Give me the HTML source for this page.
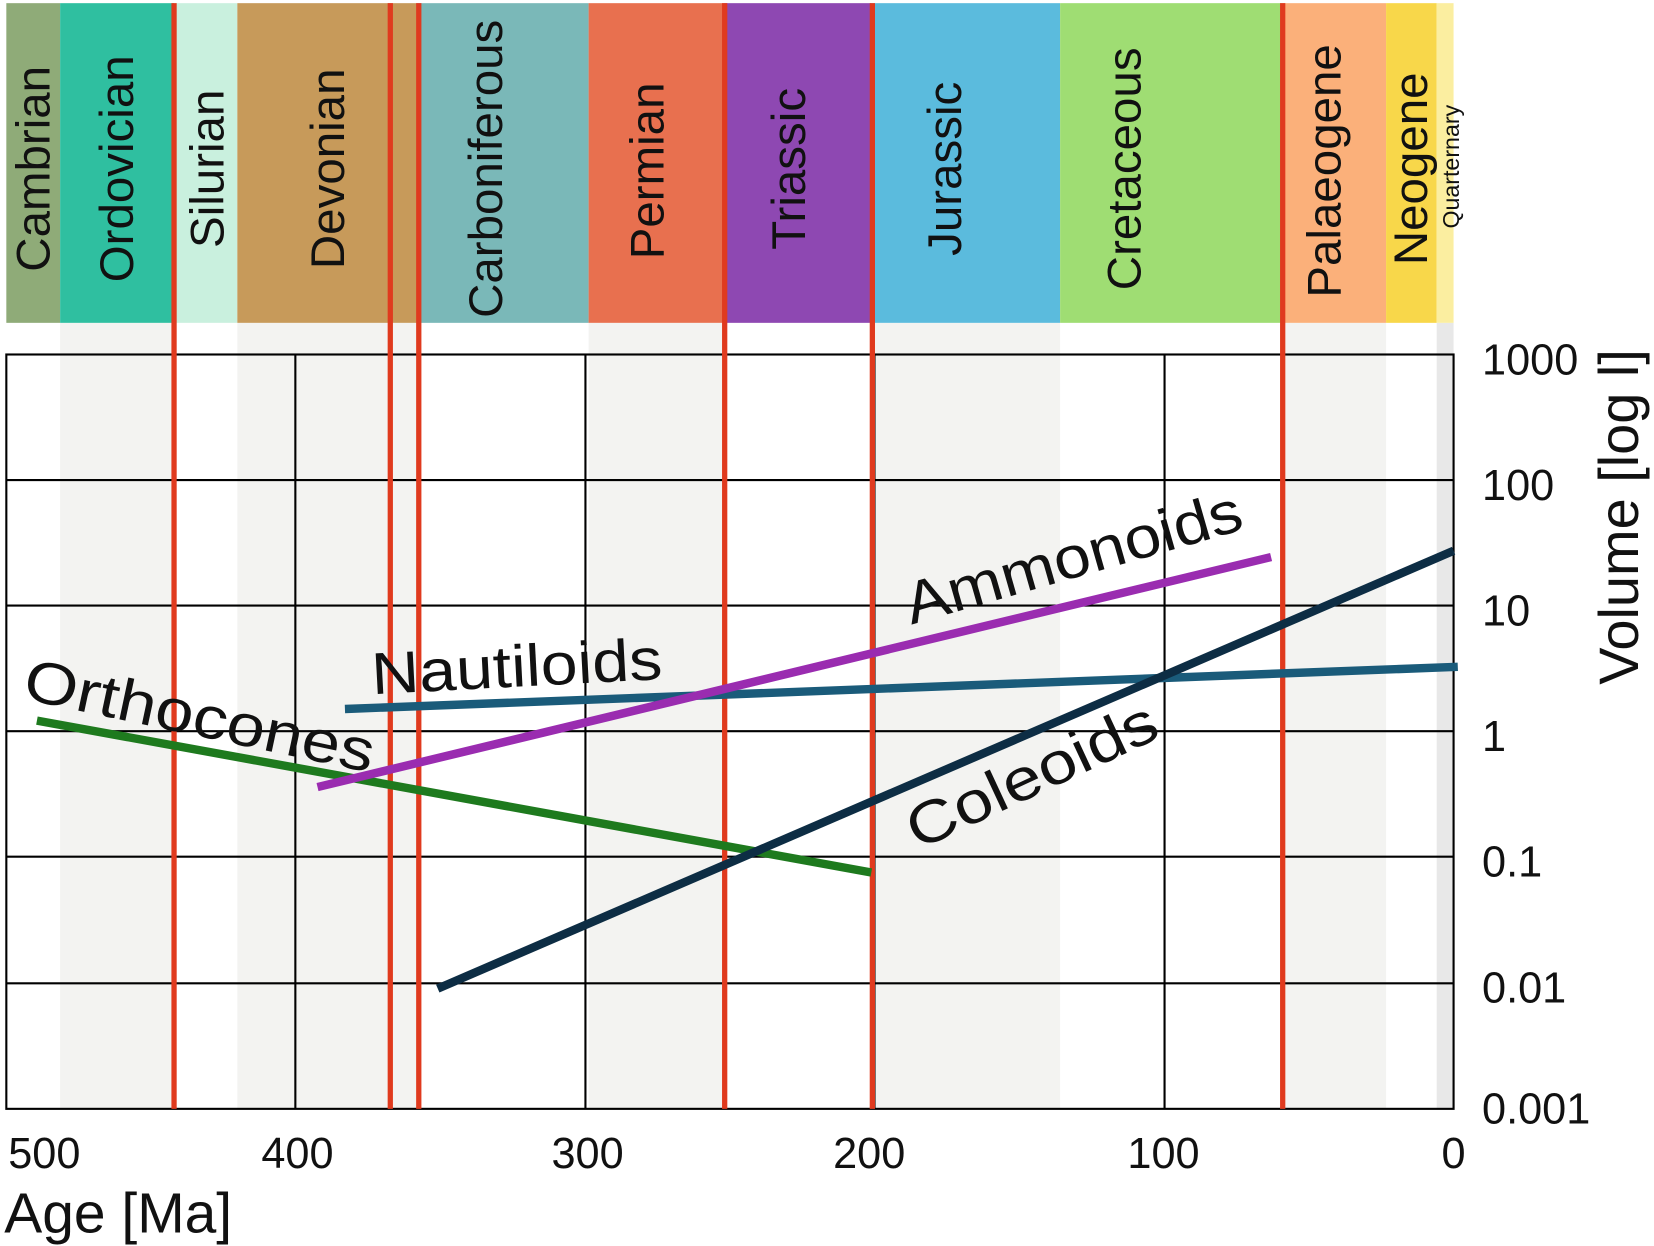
<!DOCTYPE html>
<html><head><style>html,body{margin:0;padding:0;background:#fff}svg{display:block}text{font-family:"Liberation Sans",sans-serif;fill:#111}</style></head><body>
<svg width="1654" height="1246" viewBox="0 0 1568 1181" preserveAspectRatio="none" xmlns="http://www.w3.org/2000/svg">
<rect width="1568" height="1181" fill="#fff"/>
<g fill="#f3f3f1">
<rect x="57" y="306" width="106" height="745"/>
<rect x="225" y="306" width="170" height="745"/>
<rect x="558" y="306" width="128" height="745"/>
<rect x="826" y="306" width="179" height="745"/>
<rect x="1215" y="306" width="99" height="745"/>
<rect x="1362" y="306" width="16" height="745" fill="#e8e8e8"/>
</g>
<rect x="6" y="3" width="51" height="303" fill="#8fab78"/>
<rect x="57" y="3" width="108" height="303" fill="#2fbfa0"/>
<rect x="165" y="3" width="60" height="303" fill="#c9f0de"/>
<rect x="225" y="3" width="170" height="303" fill="#c79a5a"/>
<rect x="395" y="3" width="163" height="303" fill="#7ab8b8"/>
<rect x="558" y="3" width="128" height="303" fill="#e8704f"/>
<rect x="686" y="3" width="140" height="303" fill="#8e48b2"/>
<rect x="826" y="3" width="179" height="303" fill="#5bbbdd"/>
<rect x="1005" y="3" width="210" height="303" fill="#9fdd73"/>
<rect x="1215" y="3" width="99" height="303" fill="#fbb07a"/>
<rect x="1314" y="3" width="48" height="303" fill="#f8d74a"/>
<rect x="1362" y="3" width="16" height="303" fill="#fbeea0"/>
<g font-size="45" text-anchor="middle">
<text transform="translate(47,160) rotate(-90)">Cambrian</text>
<text transform="translate(126,160) rotate(-90)">Ordovician</text>
<text transform="translate(212,160) rotate(-90)">Silurian</text>
<text transform="translate(326,160) rotate(-90)">Devonian</text>
<text transform="translate(476,160) rotate(-90)">Carboniferous</text>
<text transform="translate(629,162) rotate(-90)">Permian</text>
<text transform="translate(763,160) rotate(-90)">Triassic</text>
<text transform="translate(911,160) rotate(-90)">Jurassic</text>
<text transform="translate(1081,160) rotate(-90)">Cretaceous</text>
<text transform="translate(1271,162) rotate(-90)">Palaeogene</text>
<text transform="translate(1353,160) rotate(-90)">Neogene</text>
<text transform="translate(1383,158) rotate(-90)" font-size="22">Quarternary</text>
</g>
<g stroke="#000" stroke-width="2" fill="none">
<rect x="6" y="336" width="1372" height="715"/>
<line x1="280" y1="336" x2="280" y2="1051"/><line x1="555" y1="336" x2="555" y2="1051"/><line x1="829" y1="336" x2="829" y2="1051"/><line x1="1104" y1="336" x2="1104" y2="1051"/>
<line x1="6" y1="455" x2="1378" y2="455"/><line x1="6" y1="574" x2="1378" y2="574"/><line x1="6" y1="693" x2="1378" y2="693"/><line x1="6" y1="812" x2="1378" y2="812"/><line x1="6" y1="932" x2="1378" y2="932"/>
</g>
<g stroke="#e03a1e" stroke-width="5">
<line x1="165" y1="3" x2="165" y2="1051"/><line x1="370" y1="3" x2="370" y2="1051"/><line x1="397" y1="3" x2="397" y2="1051"/><line x1="687" y1="3" x2="687" y2="1051"/><line x1="827" y1="3" x2="827" y2="1051"/><line x1="1216" y1="3" x2="1216" y2="1051"/>
</g>
<g stroke-width="8">
<line x1="35" y1="683" x2="826" y2="827" stroke="#1e7a1e"/>
<line x1="327" y1="672" x2="1382" y2="632" stroke="#1a5b7a"/>
<line x1="301" y1="746" x2="1205" y2="528" stroke="#9a2cb0"/>
<line x1="415" y1="937" x2="1378" y2="522" stroke="#0d2d44"/>
</g>
<g font-size="56">
<text transform="translate(20,662) rotate(12)" textLength="338" lengthAdjust="spacingAndGlyphs">Orthocones</text>
<text transform="translate(353,658) rotate(-3)" textLength="276" lengthAdjust="spacingAndGlyphs">Nautiloids</text>
<text transform="translate(864,592) rotate(-16)" textLength="330" lengthAdjust="spacingAndGlyphs">Ammonoids</text>
<text transform="translate(870,806) rotate(-25)" textLength="256" lengthAdjust="spacingAndGlyphs">Coleoids</text>
</g>
<g font-size="41">
<text x="1405" y="355">1000</text><text x="1405" y="474">100</text><text x="1405" y="593">10</text><text x="1405" y="712">1</text><text x="1405" y="831">0.1</text><text x="1405" y="950">0.01</text><text x="1405" y="1065">0.001</text>
</g>
<text transform="translate(1553,490) rotate(-90)" font-size="53" text-anchor="middle">Volume [log l]</text>
<g font-size="41" text-anchor="middle">
<text x="42" y="1107">500</text><text x="282" y="1107">400</text><text x="557" y="1107">300</text><text x="824" y="1107">200</text><text x="1103" y="1107">100</text><text x="1378" y="1107">0</text>
</g>
<text x="4" y="1168" font-size="54">Age [Ma]</text>
</svg>
</body></html>
